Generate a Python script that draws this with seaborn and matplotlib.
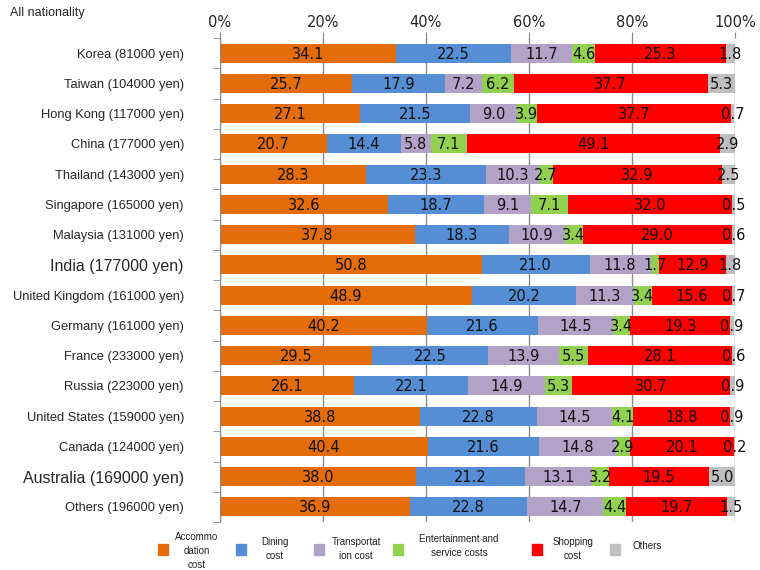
import numpy as np
import pandas as pd
import matplotlib
matplotlib.use("Agg")
import matplotlib.pyplot as plt
from matplotlib.patches import Rectangle
from matplotlib.ticker import FixedLocator
import seaborn as sns

countries = ["Korea (81000 yen)", "Taiwan (104000 yen)", "Hong Kong (117000 yen)",
             "China (177000 yen)", "Thailand (143000 yen)", "Singapore (165000 yen)",
             "Malaysia (131000 yen)", "India (177000 yen)", "United Kingdom (161000 yen)",
             "Germany (161000 yen)", "France (233000 yen)", "Russia (223000 yen)",
             "United States (159000 yen)", "Canada (124000 yen)", "Australia (169000 yen)",
             "Others (196000 yen)"]

accommodation = [34.1, 25.7, 27.1, 20.7, 28.3, 32.6, 37.8, 50.8, 48.9, 40.2, 29.5, 26.1, 38.8, 40.4, 38.0, 36.9]
dining        = [22.5, 17.9, 21.5, 14.4, 23.3, 18.7, 18.3, 21.0, 20.2, 21.6, 22.5, 22.1, 22.8, 21.6, 21.2, 22.8]
transport     = [11.7, 7.2, 9.0, 5.8, 10.3, 9.1, 10.9, 11.8, 11.3, 14.5, 13.9, 14.9, 14.5, 14.8, 13.1, 14.7]
entertainment = [4.6, 6.2, 3.9, 7.1, 2.7, 7.1, 3.4, 1.7, 3.4, 3.4, 5.5, 5.3, 4.1, 2.9, 3.2, 4.4]
shopping      = [25.3, 37.7, 37.7, 49.1, 32.9, 32.0, 29.0, 12.9, 15.6, 19.3, 28.1, 30.7, 18.8, 20.1, 19.5, 19.7]
others        = [1.8, 5.3, 0.7, 2.9, 2.5, 0.5, 0.6, 1.8, 0.7, 0.9, 0.6, 0.9, 0.9, 0.2, 5.0, 1.5]

series = [accommodation, dining, transport, entertainment, shopping, others]
legend_labels = ["Accommo\ndation\ncost", "Dining\ncost", "Transportat\nion cost",
                 "Entertainment and\nservice costs", "Shopping\ncost", "Others"]
colors = ["#E46C0A", "#558ED5", "#B3A2C7", "#92D050", "#FF0000", "#BFBFBF"]

sns.set_style("white")
plt.rcParams["font.family"] = ["DejaVu Sans"]

fig = plt.figure(figsize=(7.6, 5.7), dpi=100)
ax = fig.add_axes([220 / 760, 1 - 522 / 570, 515 / 760, (522 - 38) / 570])

vals = np.array(series)
cum = np.cumsum(vals, axis=0)

# stacked bars: draw cumulative totals from the right-most segment back
for i in range(len(series) - 1, -1, -1):
    df = pd.DataFrame({"country": countries, "value": cum[i]})
    sns.barplot(data=df, x="value", y="country", order=countries, color=colors[i],
                saturation=1, width=0.63, orient="h", linewidth=0, ax=ax)

# data labels centered in each segment
for i in range(len(series)):
    left = cum[i] - vals[i]
    for j in range(len(countries)):
        ax.text(left[j] + vals[i][j] / 2, j + 0.03, f"{vals[i][j]:.1f}", ha="center", va="center",
                fontsize=10.5, color="#111111")

ax.set_xlim(0, 100)
ax.set_ylim(len(countries) - 0.5, -0.5)
ax.set_xlabel("")
ax.set_ylabel("")
ax.xaxis.tick_top()
ax.set_xticks([0, 20, 40, 60, 80, 100])
ax.set_xticklabels(["0%", "20%", "40%", "60%", "80%", "100%"], fontsize=10.5)
ax.tick_params(axis="x", length=4, color="#888888", pad=2, top=True)
ax.set_axisbelow(True)
ax.grid(axis="x", color="#8C8C8C", linewidth=1)
ax.grid(axis="y", visible=False)

ax.yaxis.set_minor_locator(FixedLocator(np.arange(-0.5, len(countries), 1)))
ax.tick_params(axis="y", which="major", length=0, pad=26)
ax.tick_params(axis="y", which="minor", length=5, color="#888888", left=True, direction="out")
for lbl in ax.get_yticklabels():
    lbl.set_family("Liberation Sans")
    big = lbl.get_text().startswith(("India", "Australia"))
    lbl.set_fontsize(11.5 if big else 9.3)

for side in ["top", "right", "bottom"]:
    ax.spines[side].set_visible(False)
ax.spines["left"].set_color("#888888")

fig.text(10 / 760, 1 - 13 / 570, "All nationality", fontsize=9, family="Liberation Sans",
         ha="left", va="center")

# legend along the bottom
marker_x = [158, 236, 314, 393, 532, 610]
text_x = [197, 275, 356, 459, 573, 647]
text_y = [551, 549, 549, 546, 549, 546]
for k in range(len(series)):
    fig.add_artist(Rectangle((marker_x[k] / 760, 1 - 555 / 570), 10 / 760, 11 / 570,
                             transform=fig.transFigure, color=colors[k]))
    fig.text(text_x[k] / 760, 1 - text_y[k] / 570, legend_labels[k], fontsize=7,
             family="Liberation Sans", ha="center", va="center", multialignment="center",
             linespacing=1.45, color="#222222")

fig.savefig("out.png", dpi=100)
